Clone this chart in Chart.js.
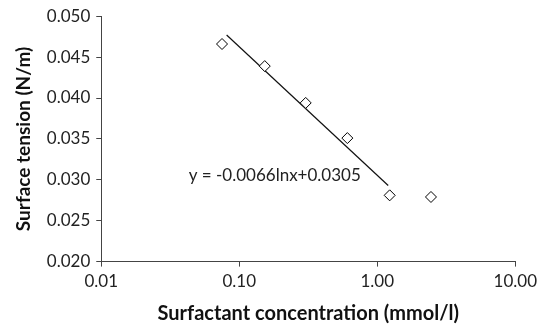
<!DOCTYPE html>
<meta charset="UTF-8">
<style>
  html, body { margin: 0; padding: 0; background: #fff; }
  #wrap { width: 542px; height: 328px; }
</style>

<div id="wrap">
  <canvas id="myChart"></canvas>
</div>

<script src="https://cdn.jsdelivr.net/npm/chart.js@4.4.0/dist/chart.umd.min.js"></script>

<script>
  const concentrations = [0.075, 0.153, 0.303, 0.607, 1.23, 2.45];
  const tensions = [0.0466, 0.0439, 0.0394, 0.0351, 0.0281, 0.0279];

  // logarithmic trendline, its two ends
  const fitX = [0.081, 1.2];
  const fitY = [0.0477, 0.0293];
  const fitLabel = 'y = -0.0066lnx+0.0305';

  const xTicks = [0.01, 0.1, 1, 10];
  const yTicks = [0.020, 0.025, 0.030, 0.035, 0.040, 0.045, 0.050];

  const font = 'Lato';

  const points = concentrations.map((c, i) => ({x: c, y: tensions[i]}));
  const fit = fitX.map((c, i) => ({x: c, y: fitY[i]}));

  // writes the equation next to the trendline
  const eqLabel = {
    id: 'eqLabel',
    afterDatasetsDraw(chart) {
      const {ctx, scales} = chart;
      const px = scales.x.getPixelForValue(0.043);
      const py = scales.y.getPixelForValue(0.0305);
      ctx.save();
      ctx.font = '17px ' + font;
      ctx.fillStyle = '#222';
      ctx.textAlign = 'left';
      ctx.textBaseline = 'middle';
      ctx.fillText(fitLabel, px, py);
      ctx.restore();
    }
  };

  const config = {
    type: 'scatter',
    data: {
      datasets: [
        {
          label: 'data',
          data: points,
          pointStyle: 'rectRot',
          pointRadius: 5.5,
          pointBackgroundColor: '#fff',
          pointBorderColor: '#000',
          pointBorderWidth: 1,
          showLine: false,
        },
        {
          label: 'fit',
          data: fit,
          showLine: true,
          borderColor: '#111',
          borderWidth: 1.2,
          pointRadius: 0,
        }
      ]
    },
    options: {
      responsive: false,
      animation: false,
      layout: { padding: { top: 4, right: 0, left: 8, bottom: 0 } },
      plugins: {
        legend: { display: false },
        tooltip: { enabled: false },
      },
      scales: {
        x: {
          type: 'logarithmic',
          min: 0.01,
          max: 10,
          afterBuildTicks: (axis) => { axis.ticks = xTicks.map(v => ({value: v})); },
          ticks: {
            color: '#222',
            font: { family: font, size: 17 },
            padding: 5,
            autoSkip: false,
            maxRotation: 0,
            callback: (v) => Number(v).toFixed(2),
          },
          grid: { drawOnChartArea: false, drawTicks: true, tickLength: 5, color: '#444' },
          border: { color: '#444', width: 1 },
          title: {
            display: true,
            text: 'Surfactant concentration (mmol/l)',
            color: '#111',
            font: { family: font, size: 20, weight: 'bold', lineHeight: 1.0 },
            padding: { top: 7, bottom: 4 },
          }
        },
        y: {
          min: 0.020,
          max: 0.050,
          afterBuildTicks: (axis) => { axis.ticks = yTicks.map(v => ({value: v})); },
          ticks: {
            color: '#222',
            font: { family: font, size: 17 },
            padding: 6,
            callback: (v) => Number(v).toFixed(3),
          },
          grid: { drawOnChartArea: false, drawTicks: true, tickLength: 5, color: '#444' },
          border: { color: '#444', width: 1 },
          title: {
            display: true,
            text: 'Surface tension (N/m)',
            color: '#111',
            font: { family: font, size: 19, weight: 'bold' },
            padding: { bottom: 6 },
          }
        }
      }
    },
    plugins: [eqLabel]
  };

  const canvas = document.getElementById('myChart');
  canvas.width = 542;
  canvas.height = 328;
  new Chart(canvas, config);
</script>
